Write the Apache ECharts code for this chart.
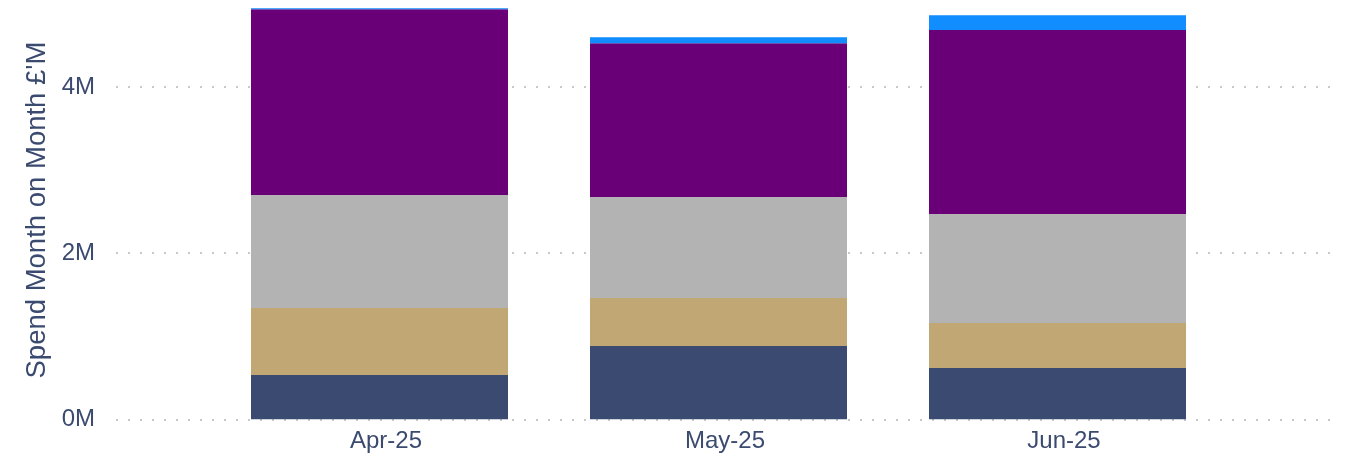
<!DOCTYPE html>
<html>
<head>
<meta charset="utf-8">
<script src="https://cdn.jsdelivr.net/npm/echarts@6/dist/echarts.min.js"></script>
<style>
  html, body { margin: 0; padding: 0; background: #ffffff; }
  #chart { width: 1345px; height: 454px; }
</style>
</head>
<body>
<div id="chart"></div>
<script>
// Monthly spend, stacked by cost group (values in £)
const months = ['Apr-25', 'May-25', 'Jun-25'];
const groupA = [533000, 882000, 617000];     // navy, bottom
const groupB = [806000, 578000, 542000];     // tan
const groupC = [1360000, 1215000, 1312000];  // grey
const groupD = [2238000, 1853000, 2214000];  // purple
const groupE = [12000, 72000, 180000];       // blue, top
const yTicks = [0, 2000000, 4000000];

const textColor = '#3B4A6F';
const fontFamily = 'Arial, "Liberation Sans", sans-serif';

const chart = echarts.init(document.getElementById('chart'), null, { renderer: 'canvas' });

function barSeries(name, data, color) {
  return {
    name: name,
    type: 'bar',
    stack: 'spend',
    xAxisIndex: 0,
    yAxisIndex: 0,
    barWidth: 257,
    data: data,
    itemStyle: { color: color },
    emphasis: { disabled: true }
  };
}

// Both grids share the same pixel scale: 0 at the bottom edge, 4M on the
// top edge of the gridline grid and 5M on the top edge of the bar grid.
const zeroY = 419.3;
const pxPerUnit = (419.3 - 87) / 4000000;
const bottomGap = 454 - zeroY;
const barMax = 5000000;
const lineMax = yTicks[yTicks.length - 1];

chart.setOption({
  animation: false,
  backgroundColor: '#ffffff',
  grid: [
    // bar area (narrower, categories centred)
    { left: 210, right: 118, top: zeroY - barMax * pxPerUnit, bottom: bottomGap },
    // full-width area carrying the value labels and dotted gridlines
    { left: 116, right: 12, top: zeroY - lineMax * pxPerUnit, bottom: bottomGap }
  ],
  xAxis: [
    {
      type: 'category',
      gridIndex: 0,
      data: months,
      axisLine: { show: false },
      axisTick: { show: false },
      axisLabel: {
        color: textColor, fontSize: 24, fontFamily: fontFamily, margin: 10,
        padding: [0, 0, 0, 13]
      }
    },
    {
      type: 'value',
      gridIndex: 1,
      show: false
    }
  ],
  yAxis: [
    {
      type: 'value',
      gridIndex: 0,
      min: 0, max: barMax,
      show: false,
      splitLine: { show: false }
    },
    {
      type: 'value',
      gridIndex: 1,
      min: 0, max: lineMax, interval: 2000000,
      axisLine: { show: false },
      axisTick: { show: false },
      axisLabel: {
        color: textColor, fontSize: 24, fontFamily: fontFamily, margin: 21,
        padding: [5, 0, 0, 0],
        formatter: function (v) { return (v / 1000000) + 'M'; }
      },
      splitLine: {
        show: true,
        lineStyle: { color: '#C8C8C8', width: 2, type: [2, 10] }
      }
    }
  ],
  graphic: [
    {
      type: 'text',
      x: 37,
      y: 210,
      rotation: Math.PI / 2,
      style: {
        text: "Spend Month on Month £'M",
        fill: textColor,
        font: '27.5px ' + fontFamily,
        textAlign: 'center',
        textVerticalAlign: 'middle'
      }
    }
  ],
  series: [
    barSeries('Group A', groupA, '#3A4A71'),
    barSeries('Group B', groupB, '#C1A774'),
    barSeries('Group C', groupC, '#B3B3B3'),
    barSeries('Group D', groupD, '#6A0078'),
    barSeries('Group E', groupE, '#118DFF')
  ]
});
</script>
</body>
</html>
